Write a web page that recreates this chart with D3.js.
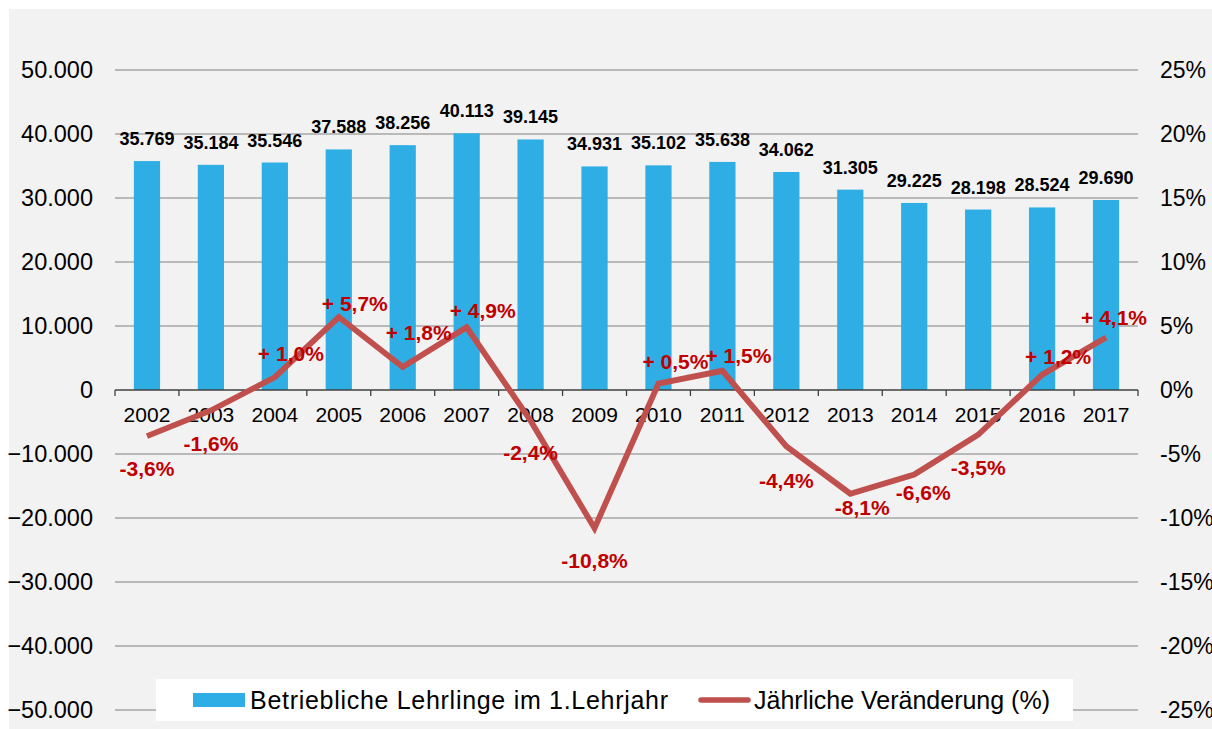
<!DOCTYPE html>
<html>
<head>
<meta charset="utf-8">
<script src="https://cdn.jsdelivr.net/npm/d3@7"></script>
<style>
  body { margin: 0; background: #ffffff; }
  svg { display: block; font-family: "Liberation Sans", Arial, sans-serif; }
</style>
</head>
<body>
<div id="chart"></div>
<script>
// data
var years = ["2002","2003","2004","2005","2006","2007","2008","2009","2010","2011","2012","2013","2014","2015","2016","2017"];
var apprentices = [35769, 35184, 35546, 37588, 38256, 40113, 39145, 34931, 35102, 35638, 34062, 31305, 29225, 28198, 28524, 29690];
var changes = [-3.6, -1.6, 1.0, 5.7, 1.8, 4.9, -2.4, -10.8, 0.5, 1.5, -4.4, -8.1, -6.6, -3.5, 1.2, 4.1];
var leftTicks = [50000, 40000, 30000, 20000, 10000, 0, -10000, -20000, -30000, -40000, -50000];
var rightTicks = [25, 20, 15, 10, 5, 0, -5, -10, -15, -20, -25];
var seriesNames = ["Betriebliche Lehrlinge im 1.Lehrjahr", "Jährliche Veränderung (%)"];

// manual label nudges (like the Excel original)
var changeLabelOffset = [[0,32],[0,33],[16,-24],[16,-14],[16,-35],[16,-17],[0,32],[0,32],[17,-22],[16,-15],[0,34],[12,14],[9,18],[0,33],[16,-18],[8,-20]];

var width = 1212, height = 729;
var plotLeft = 115, plotRight = 1138, plotTop = 70, plotBottom = 710;

var svg = d3.select("#chart").append("svg")
    .attr("width", width)
    .attr("height", height);

svg.append("rect")
    .attr("x", 9).attr("y", 9)
    .attr("width", width - 9).attr("height", height - 9)
    .attr("fill", "#f2f2f2");

var x = d3.scaleBand().domain(years).range([plotLeft, plotRight]).paddingInner(0.59).paddingOuter(0.295);
var xc = d3.scaleBand().domain(years).range([plotLeft, plotRight]);
var yL = d3.scaleLinear().domain([-50000, 50000]).range([plotBottom, plotTop]);
var yR = d3.scaleLinear().domain([-25, 25]).range([plotBottom, plotTop]);

var fmtNum = function(v) { return d3.format(",")(v).replace(/,/g, "."); };
var fmtPct = function(v) {
    var s = d3.format(".1f")(Math.abs(v)).replace(".", ",") + "%";
    return v < 0 ? "-" + s : "+ " + s;
};

// gridlines
svg.append("g")
    .selectAll("line")
    .data(leftTicks.filter(function(d) { return d !== 0; }))
    .enter()
    .append("line")
    .attr("x1", plotLeft).attr("x2", plotRight)
    .attr("y1", function(d) { return yL(d); })
    .attr("y2", function(d) { return yL(d); })
    .style("stroke", "#a6a6a6")
    .style("stroke-width", 1.3);

// left axis labels
svg.append("g")
    .selectAll("text")
    .data(leftTicks)
    .enter()
    .append("text")
    .attr("x", 93)
    .attr("y", function(d) { return yL(d); })
    .attr("dy", "0.36em")
    .attr("text-anchor", "end")
    .style("font-size", "23.5px")
    .style("fill", "#000")
    .text(function(d) { return fmtNum(d); });

// right axis labels
svg.append("g")
    .selectAll("text")
    .data(rightTicks)
    .enter()
    .append("text")
    .attr("x", 1160)
    .attr("y", function(d) { return yR(d); })
    .attr("dy", "0.36em")
    .style("font-size", "23px")
    .style("fill", "#000")
    .text(function(d) { return d + "%"; });

// bars
svg.append("g")
    .selectAll("rect")
    .data(apprentices)
    .enter()
    .append("rect")
    .attr("x", function(d, i) { return x(years[i]); })
    .attr("y", function(d) { return yL(d); })
    .attr("width", x.bandwidth())
    .attr("height", function(d) { return yL(0) - yL(d); })
    .style("fill", "#2eaee4");

// bar labels
svg.append("g")
    .selectAll("text")
    .data(apprentices)
    .enter()
    .append("text")
    .attr("x", function(d, i) { return x(years[i]) + x.bandwidth() / 2; })
    .attr("y", function(d) { return yL(d) - 16; })
    .attr("text-anchor", "middle")
    .style("font-size", "18px")
    .style("font-weight", "bold")
    .style("fill", "#000")
    .text(function(d) { return fmtNum(d); });

// x axis line at zero with boundary ticks
var xAxis = svg.append("g");
xAxis.append("line")
    .attr("x1", plotLeft).attr("x2", plotRight)
    .attr("y1", yL(0)).attr("y2", yL(0))
    .style("stroke", "#404040")
    .style("stroke-width", 1.3);
xAxis.selectAll("line.tick")
    .data(years.concat(["end"]))
    .enter()
    .append("line")
    .attr("class", "tick")
    .attr("x1", function(d, i) { return plotLeft + i * xc.bandwidth(); })
    .attr("x2", function(d, i) { return plotLeft + i * xc.bandwidth(); })
    .attr("y1", yL(0)).attr("y2", yL(0) + 6)
    .style("stroke", "#404040")
    .style("stroke-width", 1.3);
xAxis.selectAll("text")
    .data(years)
    .enter()
    .append("text")
    .attr("x", function(d) { return xc(d) + xc.bandwidth() / 2; })
    .attr("y", yL(0) + 32)
    .attr("text-anchor", "middle")
    .style("font-size", "21px")
    .style("fill", "#000")
    .text(function(d) { return d; });

// change line
var line = d3.line()
    .x(function(d, i) { return xc(years[i]) + xc.bandwidth() / 2; })
    .y(function(d) { return yR(d); });

svg.append("path")
    .datum(changes)
    .attr("d", line)
    .style("fill", "none")
    .style("stroke", "#c0504d")
    .style("stroke-width", 5.8)
    .style("stroke-linejoin", "miter");

svg.append("g")
    .selectAll("text")
    .data(changes)
    .enter()
    .append("text")
    .attr("x", function(d, i) { return xc(years[i]) + xc.bandwidth() / 2 + changeLabelOffset[i][0]; })
    .attr("y", function(d, i) { return yR(d) + changeLabelOffset[i][1]; })
    .attr("dy", "0.36em")
    .attr("text-anchor", "middle")
    .style("font-size", "21px")
    .style("font-weight", "bold")
    .style("fill", "#c00000")
    .text(function(d) { return fmtPct(d); });

// legend
var legend = svg.append("g");
legend.append("rect")
    .attr("x", 156).attr("y", 679)
    .attr("width", 917).attr("height", 42)
    .style("fill", "#ffffff");
legend.append("rect")
    .attr("x", 193).attr("y", 693)
    .attr("width", 52).attr("height", 14)
    .style("fill", "#2eaee4");
legend.append("text")
    .attr("x", 250).attr("y", 700)
    .attr("dy", "0.36em")
    .attr("textLength", 418)
    .attr("lengthAdjust", "spacing")
    .style("font-size", "25px")
    .style("fill", "#000")
    .text(seriesNames[0]);
legend.append("line")
    .attr("x1", 701).attr("x2", 748)
    .attr("y1", 700).attr("y2", 700)
    .style("stroke", "#c0504d")
    .style("stroke-width", 5.5)
    .style("stroke-linecap", "round");
legend.append("text")
    .attr("x", 754).attr("y", 700)
    .attr("dy", "0.36em")
    .style("font-size", "25px")
    .style("fill", "#000")
    .text(seriesNames[1]);
</script>
</body>
</html>
